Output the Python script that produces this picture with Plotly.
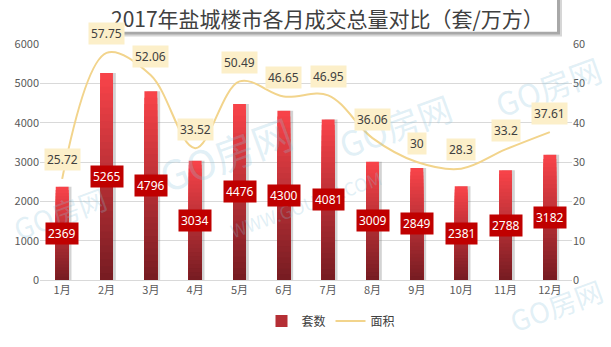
import plotly.graph_objects as go

months = ["1月", "2月", "3月", "4月", "5月", "6月", "7月", "8月", "9月", "10月", "11月", "12月"]
units = [2369, 5265, 4796, 3034, 4476, 4300, 4081, 3009, 2849, 2381, 2788, 3182]
area = [25.72, 57.75, 52.06, 33.52, 50.49, 46.65, 46.95, 36.06, 30, 28.3, 33.2, 37.61]
title_text = "2017年盐城楼市各月成交总量对比（套/万方）"

FONT = "Noto Sans CJK SC, Microsoft YaHei, sans-serif"
NUMFONT = "Noto Sans, Open Sans, sans-serif"

# plot area in pixels
W, H = 611, 347
L, R, T, B = 40, 39, 44, 55
PW, PH = W - L - R, H - T - B

def px_x(x):
    return (x - L) / PW

def px_y(y):
    return (H - B - y) / PH

fig = go.Figure()

bw = 0.29
# shadow bars
fig.add_trace(go.Bar(
    x=months, y=units, width=bw, offset=-bw / 2 + 0.065,
    marker=dict(color="rgba(110,110,110,0.30)", line=dict(width=0)),
    showlegend=False, hoverinfo="skip", yaxis="y"))

# gradient bars (overlay: tallest/brightest first)
N = 30
top = (250, 68, 74)
bot = (118, 28, 34)
for k in range(N, 0, -1):
    f = (k - 0.5) / N
    c = tuple(int(bot[i] + (top[i] - bot[i]) * f) for i in range(3))
    fig.add_trace(go.Bar(
        x=months, y=[v * k / N for v in units], width=bw, offset=-bw / 2,
        marker=dict(color="rgb(%d,%d,%d)" % c, line=dict(width=0)),
        name="套数", legendgroup="units", showlegend=(k == N // 2),
        hoverinfo="skip", yaxis="y"))

fig.add_trace(go.Scatter(
    x=months, y=area, mode="lines", name="面积",
    line=dict(color="#f2d48c", width=2, shape="spline", smoothing=1.0),
    yaxis="y2"))

annotations = []

# watermarks (drawn first so labels sit above)
wm_color = "rgba(140,195,220,0.26)"
for (x, y, s, t) in [
    (548, 88, 32, "GO房网"),
    (225, 160, 40, "GO房网"),
    (395, 130, 34, "GO房网"),
    (305, 212, 18, "WWW.GOUFW.COM"),
    (60, 222, 28, "GO房网"),
    (556, 318, 28, "GO房网"),
]:
    annotations.append(dict(
        x=px_x(x), y=px_y(y), xref="paper", yref="paper", text=t,
        xanchor="center", yanchor="middle",
        showarrow=False, textangle=-20,
        font=dict(family=FONT, size=s, color=wm_color)))

annotations.append(dict(
    x=px_x(327.5), y=px_y(16.5), xref="paper", yref="paper", text=title_text,
    xanchor="center", yanchor="middle",
    showarrow=False, font=dict(family=FONT, size=21, color="#404040")))

for m, v in zip(months, units):
    annotations.append(dict(
        x=m, y=v / 2, xref="x", yref="y", text=str(v), showarrow=False,
        xanchor="center", yanchor="middle",
        font=dict(family=NUMFONT, size=12, color="white"),
        bgcolor="#c00000", borderpad=2))
for m, v in zip(months, area):
    annotations.append(dict(
        x=m, y=v, xref="x", yref="y2", text=str(v), showarrow=False,
        xanchor="center", yanchor="middle",
        yshift=19, font=dict(family=NUMFONT, size=12, color="#404040"),
        bgcolor="#fcefc9", borderpad=2))

shapes = [
    dict(type="rect", xref="paper", yref="paper",
         x0=px_x(103), x1=px_x(562), y0=px_y(36), y1=px_y(-5),
         fillcolor="#d6d6d6", line=dict(width=0), layer="above"),
    dict(type="rect", xref="paper", yref="paper",
         x0=px_x(102), x1=px_x(560), y0=px_y(34), y1=px_y(-5),
         fillcolor="#a8a8a8", line=dict(width=0), layer="above"),
    dict(type="rect", xref="paper", yref="paper",
         x0=px_x(99), x1=px_x(557), y0=px_y(31), y1=px_y(-5),
         fillcolor="white", line=dict(width=0), layer="above"),
]

fig.update_layout(
    width=W, height=H,
    margin=dict(l=L, r=R, t=T, b=B, pad=0),
    paper_bgcolor="white", plot_bgcolor="white",
    barmode="overlay",
    font=dict(family=FONT, size=11, color="#595959"),
    xaxis=dict(type="category", showgrid=False, ticks="", showline=True,
               linecolor="#d9d9d9", tickfont=dict(size=11, color="#595959")),
    yaxis=dict(range=[0, 6000], dtick=1000, showgrid=True, gridcolor="#d9d9d9",
               zeroline=False, ticks="", tickfont=dict(size=11, color="#595959")),
    yaxis2=dict(range=[0, 60], dtick=10, overlaying="y", side="right",
                showgrid=False, zeroline=False, ticks="",
                tickfont=dict(size=11, color="#595959")),
    legend=dict(orientation="h", x=px_x(331), xanchor="center", y=px_y(335),
                yanchor="middle", font=dict(size=12, color="#404040"),
                bgcolor="rgba(0,0,0,0)"),
    annotations=annotations,
    shapes=shapes,
    showlegend=True,
)

fig.write_html("out.html")
